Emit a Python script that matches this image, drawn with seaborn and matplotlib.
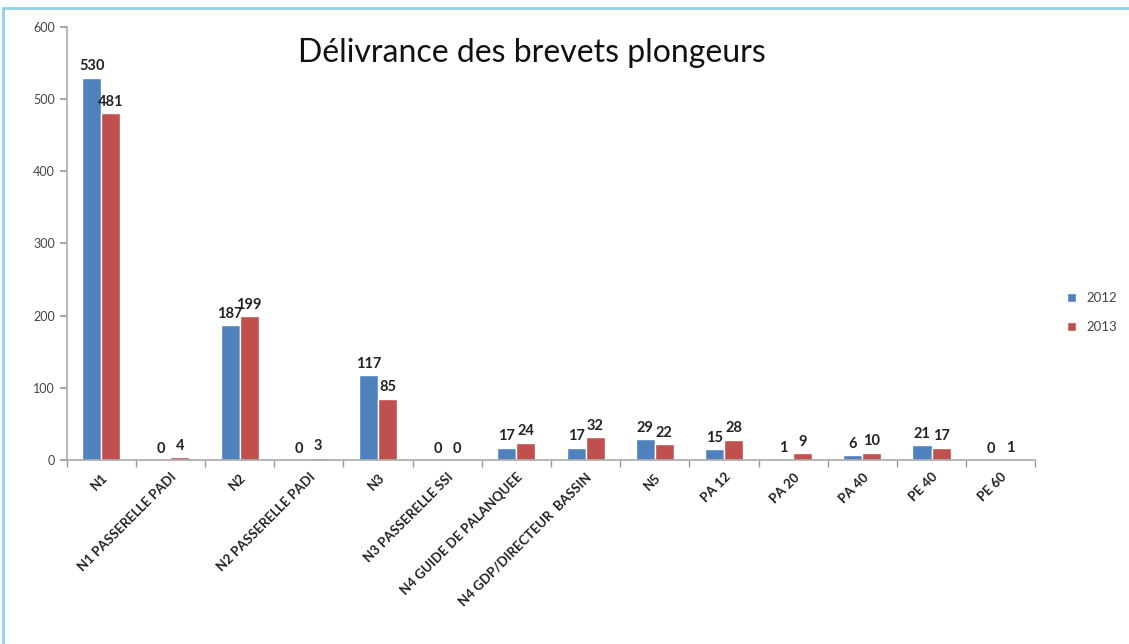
import pandas as pd
import numpy as np
import matplotlib.pyplot as plt
import seaborn as sns
from matplotlib.patches import Rectangle

categories = ['N1', 'N1 PASSERELLE PADI', 'N2', 'N2 PASSERELLE PADI', 'N3',
              'N3 PASSERELLE SSI', 'N4 GUIDE DE PALANQUEE', 'N4 GDP/DIRECTEUR  BASSIN',
              'N5', 'PA 12', 'PA 20', 'PA 40', 'PE 40', 'PE 60']
v2012 = [530, 0, 187, 0, 117, 0, 17, 17, 29, 15, 1, 6, 21, 0]
v2013 = [481, 4, 199, 3, 85, 0, 24, 32, 22, 28, 9, 10, 17, 1]

# long dataframe for seaborn
df = pd.DataFrame({'brevet': categories * 2,
                   'annee': ['2012'] * len(categories) + ['2013'] * len(categories),
                   'n': v2012 + v2013})

sns.set_theme(style="white")
plt.rcParams['font.family'] = ['Lato', 'DejaVu Sans']

fig = plt.figure(figsize=(11.29, 6.44), dpi=100)
ax = fig.add_axes([0.059, 0.286, 0.858, 0.672])
sns.barplot(data=df, x='brevet', y='n', hue='annee', ax=ax,
            palette=['#4F81BD', '#C0504D'], width=0.55, saturation=1)

for cont in ax.containers:
    ax.bar_label(cont, fontsize=10.5, fontweight='bold', color='#222222', padding=3)

ax.set_ylim(0, 600)
ax.set_xlim(-0.5, len(categories) - 0.5)
ax.set_yticks(range(0, 601, 100))
ax.set_xlabel('')
ax.set_ylabel('')

ax.set_xticks(np.arange(len(categories)))
ax.set_xticklabels(categories, rotation=45, ha='right', rotation_mode='anchor',
                   fontsize=9.5, fontweight='bold', color='#222222')
ax.set_xticks(np.arange(-0.5, len(categories)), minor=True)
ax.tick_params(axis='x', which='major', length=0, pad=8)
ax.tick_params(axis='x', which='minor', length=5, color='#999999', bottom=True)
ax.tick_params(axis='y', length=5, color='#999999', left=True, labelsize=9, labelcolor='#444444')

for s in ['top', 'right']:
    ax.spines[s].set_visible(False)
for s in ['left', 'bottom']:
    ax.spines[s].set_color('#aaaaaa')
    ax.spines[s].set_linewidth(1.2)

ax.text(0.48, 0.94, 'Délivrance des brevets plongeurs', transform=ax.transAxes,
        fontsize=23, ha='center', va='center', color='#111111')

ax.legend(loc='center left', bbox_to_anchor=(1.02, 0.34), frameon=False,
          fontsize=9.5, handlelength=0.7, handleheight=0.7, labelspacing=1.3,
          labelcolor='#444444')

fig.patches.append(Rectangle((0.003, -0.1), 1.2, 1.088, transform=fig.transFigure,
                             fill=False, edgecolor='#8fd0f0', linewidth=2))

fig.savefig('out.png', dpi=100)
